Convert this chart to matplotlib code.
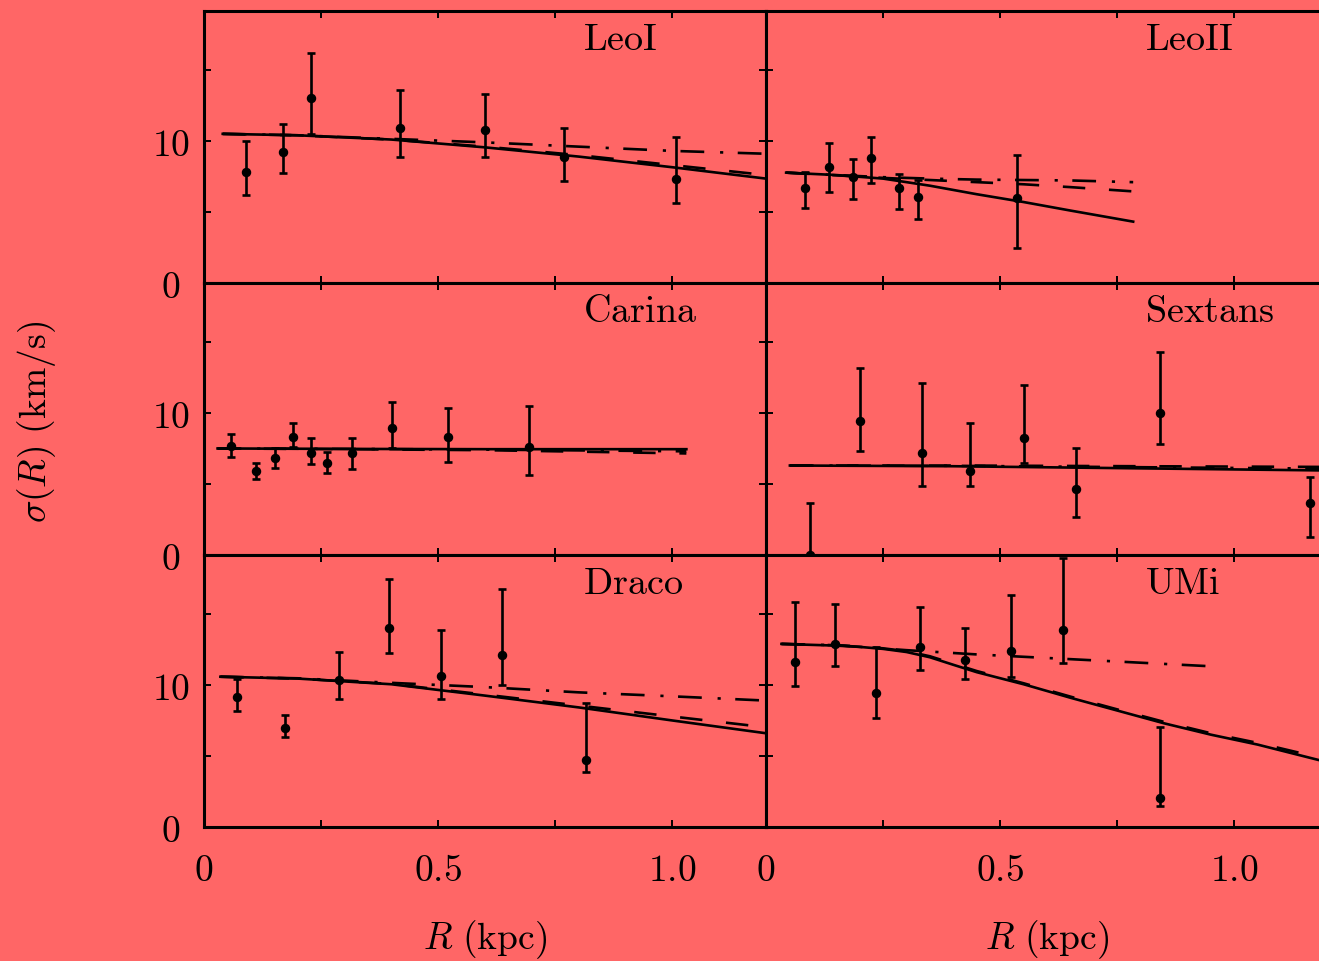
import numpy as np
import matplotlib
matplotlib.use("Agg")
import matplotlib.pyplot as plt

plt.rcParams['mathtext.fontset'] = 'cm'

# --- measured dispersion profiles: radius (kpc), sigma and error-bar limits (km/s) ---
leo1_r = [0.089, 0.169, 0.228, 0.418, 0.599, 0.769, 1.008]
leo1_sig = [7.8, 9.2, 13.05, 10.9, 10.8, 8.9, 7.3]
leo1_lo = [6.2, 7.75, 10.5, 8.9, 8.9, 7.2, 5.65]
leo1_hi = [10.0, 11.2, 16.2, 13.6, 13.3, 10.9, 10.25]

leo2_r = [0.084, 0.134, 0.186, 0.225, 0.285, 0.324, 0.535]
leo2_sig = [6.67, 8.19, 7.49, 8.78, 6.67, 6.03, 5.96]
leo2_lo = [5.26, 6.39, 5.89, 7.06, 5.21, 4.5, 2.44]
leo2_hi = [7.8, 9.84, 8.75, 10.26, 7.68, 7.25, 9.04]

car_r = [0.057, 0.112, 0.152, 0.19, 0.229, 0.263, 0.316, 0.401, 0.522, 0.693]
car_sig = [7.7, 5.94, 6.81, 8.33, 7.2, 6.5, 7.16, 8.96, 8.33, 7.58]
car_lo = [6.92, 5.33, 6.1, 7.58, 6.4, 5.8, 6.06, 7.5, 6.57, 5.63]
car_hi = [8.5, 6.5, 7.5, 9.27, 8.26, 7.27, 8.26, 10.8, 10.33, 10.5]

sex_r = [0.094, 0.201, 0.334, 0.435, 0.551, 0.662, 0.842, 1.161]
sex_sig = [0.0, 9.44, 7.2, 5.92, 8.22, 4.63, 9.98, 3.64]
sex_lo = [0.0, 7.35, 4.86, 4.86, 6.46, 2.7, 7.8, 1.25]
sex_hi = [3.68, 13.15, 12.13, 9.32, 11.95, 7.51, 14.3, 5.51]

dra_r = [0.071, 0.172, 0.288, 0.396, 0.506, 0.636, 0.816]
dra_sig = [9.13, 6.97, 10.35, 13.99, 10.61, 12.11, 4.72]
dra_lo = [8.19, 6.32, 9.01, 12.25, 9.01, 10.02, 3.85]
dra_hi = [10.42, 7.91, 12.35, 17.46, 13.9, 16.76, 8.73]

umi_r = [0.062, 0.148, 0.234, 0.329, 0.424, 0.523, 0.635, 0.841]
umi_sig = [11.64, 12.89, 9.41, 12.65, 11.76, 12.42, 13.87, 2.02]
umi_lo = [9.9, 11.32, 7.68, 11.06, 10.42, 10.58, 11.55, 1.46]
umi_hi = [15.82, 15.7, 12.65, 15.47, 14.01, 16.34, 18.92, 7.02]

# --- model curves (solid, dashed, dash-dot) ---
leo1_mr = [0.04, 0.2, 0.4, 0.6, 0.8, 1.0, 1.2]
leo1_solid = [10.5, 10.4, 10.1, 9.55, 8.9, 8.15, 7.35]
leo1_dash = [10.5, 10.4, 10.1, 9.6, 9.0, 8.3, 7.6]
leo1_dashdot = [10.5, 10.4, 10.15, 9.9, 9.6, 9.3, 9.1]

leo2_mr = [0.043, 0.15, 0.25, 0.35, 0.45, 0.55, 0.65, 0.784]
leo2_solid = [7.77, 7.6, 7.35, 6.85, 6.25, 5.7, 5.1, 4.32]
leo2_dash = [7.77, 7.58, 7.4, 7.25, 7.1, 6.95, 6.75, 6.45]
leo2_dashdot = [7.77, 7.6, 7.45, 7.35, 7.28, 7.25, 7.22, 7.1]

car_mr = [0.029, 0.3, 0.6, 0.85, 1.03]
car_solid = [7.5, 7.47, 7.45, 7.45, 7.45]
car_dash = [7.5, 7.45, 7.38, 7.25, 7.15]
car_dashdot = [7.5, 7.47, 7.42, 7.35, 7.3]

sex_mr = [0.051, 0.4, 0.8, 1.2]
sex_solid = [6.3, 6.25, 6.1, 5.95]
sex_dash = [6.3, 6.3, 6.25, 6.2]
sex_dashdot = [6.3, 6.28, 6.18, 6.08]

dra_mr = [0.035, 0.2, 0.4, 0.6, 0.8, 1.0, 1.2]
dra_solid = [10.58, 10.45, 10.05, 9.25, 8.42, 7.5, 6.6]
dra_dash = [10.58, 10.45, 10.07, 9.32, 8.55, 7.78, 7.02]
dra_dashdot = [10.58, 10.47, 10.15, 9.85, 9.48, 9.2, 8.9]

umi_mr = [0.033, 0.15, 0.2, 0.25, 0.3, 0.35, 0.4, 0.45, 0.55, 0.65, 0.75, 0.85, 0.95, 1.05, 1.2]
umi_solid = [12.89, 12.77, 12.68, 12.54, 12.32, 11.95, 11.42, 10.9, 10.05, 9.1, 8.2, 7.3, 6.5, 5.8, 4.55]
umi_dash = [12.89, 12.8, 12.71, 12.58, 12.38, 12.02, 11.5, 10.98, 10.12, 9.18, 8.28, 7.4, 6.6, 5.92, 4.75]
umi_dd_r = [0.033, 0.15, 0.3, 0.45, 0.6, 0.75, 0.947]
umi_dashdot = [12.89, 12.8, 12.45, 12.15, 11.9, 11.65, 11.32]

panels = [
    ("LeoI", leo1_r, leo1_sig, leo1_lo, leo1_hi, leo1_mr, leo1_solid, leo1_dash, leo1_mr, leo1_dashdot),
    ("LeoII", leo2_r, leo2_sig, leo2_lo, leo2_hi, leo2_mr, leo2_solid, leo2_dash, leo2_mr, leo2_dashdot),
    ("Carina", car_r, car_sig, car_lo, car_hi, car_mr, car_solid, car_dash, car_mr, car_dashdot),
    ("Sextans", sex_r, sex_sig, sex_lo, sex_hi, sex_mr, sex_solid, sex_dash, sex_mr, sex_dashdot),
    ("Draco", dra_r, dra_sig, dra_lo, dra_hi, dra_mr, dra_solid, dra_dash, dra_mr, dra_dashdot),
    ("UMi", umi_r, umi_sig, umi_lo, umi_hi, umi_mr, umi_solid, umi_dash, umi_dd_r, umi_dashdot),
]

BG = '#ff6666'
W, H = 1319, 962
fig = plt.figure(figsize=(W / 100, H / 100), dpi=100, facecolor=BG)

col_left = [204 / W, 766 / W]
ax_w = 562 / W
ax_h = 272 / H
row_bottom = [678 / H, 406 / H, 134 / H]

lw = 1.9
for k, (name, r, sig, lo, hi, mr, solid, dash, dr, dashdot) in enumerate(panels):
    row, col = divmod(k, 2)
    ax = fig.add_axes([col_left[col], row_bottom[row], ax_w, ax_h], facecolor=BG)

    sig = np.asarray(sig)
    yerr = [sig - np.asarray(lo), np.asarray(hi) - sig]
    ax.errorbar(r, sig, yerr=yerr, fmt='o', color='k', ms=5.8,
                elinewidth=lw, capsize=3, capthick=lw)
    ax.plot(mr, solid, color='k', lw=lw)
    ax.plot(mr, dash, color='k', lw=lw, linestyle=(0, (8.5, 9)))
    ax.plot(dr, dashdot, color='k', lw=lw, linestyle=(0, (9, 6, 1.2, 5.5)))

    ax.set_xlim(0, 1.2)
    ax.set_ylim(0, 19.15)

    ax.set_xticks([0, 0.5, 1.0])
    ax.set_xticks([0.25, 0.75], minor=True)
    ax.set_yticks([0, 10])
    ax.set_yticks([5, 15], minor=True)
    if row == 2:
        ax.set_xticklabels([r'$0$', r'$0.5$', r'$1.0$'])
    else:
        ax.set_xticklabels([])
    if col == 0:
        ax.set_yticklabels([r'$0$', r'$10$'])
        for lab in ax.get_yticklabels():
            lab.set_horizontalalignment('center')
    else:
        ax.set_yticklabels([])

    ax.tick_params(which='both', direction='in', length=5, width=1.4,
                   top=True, right=True, labelsize=27)
    ax.tick_params(axis='x', pad=18)
    ax.tick_params(axis='y', pad=24)
    for sp in ax.spines.values():
        sp.set_linewidth(2.2)

    ax.text(0.675, 0.86, r'$\mathrm{%s}$' % name, transform=ax.transAxes,
            fontsize=27.5, ha='left', va='baseline')

    if row == 2:
        ax.text(0.5, -0.412, r'$R\ (\mathrm{kpc})$', transform=ax.transAxes,
                fontsize=27, ha='center', va='center')

fig.text(37 / W, 1 - 422 / H, r'$\sigma(R)\ (\mathrm{km/s})$', rotation=90,
         fontsize=27, ha='center', va='center')

fig.savefig('out.png', dpi=100, facecolor=BG)
